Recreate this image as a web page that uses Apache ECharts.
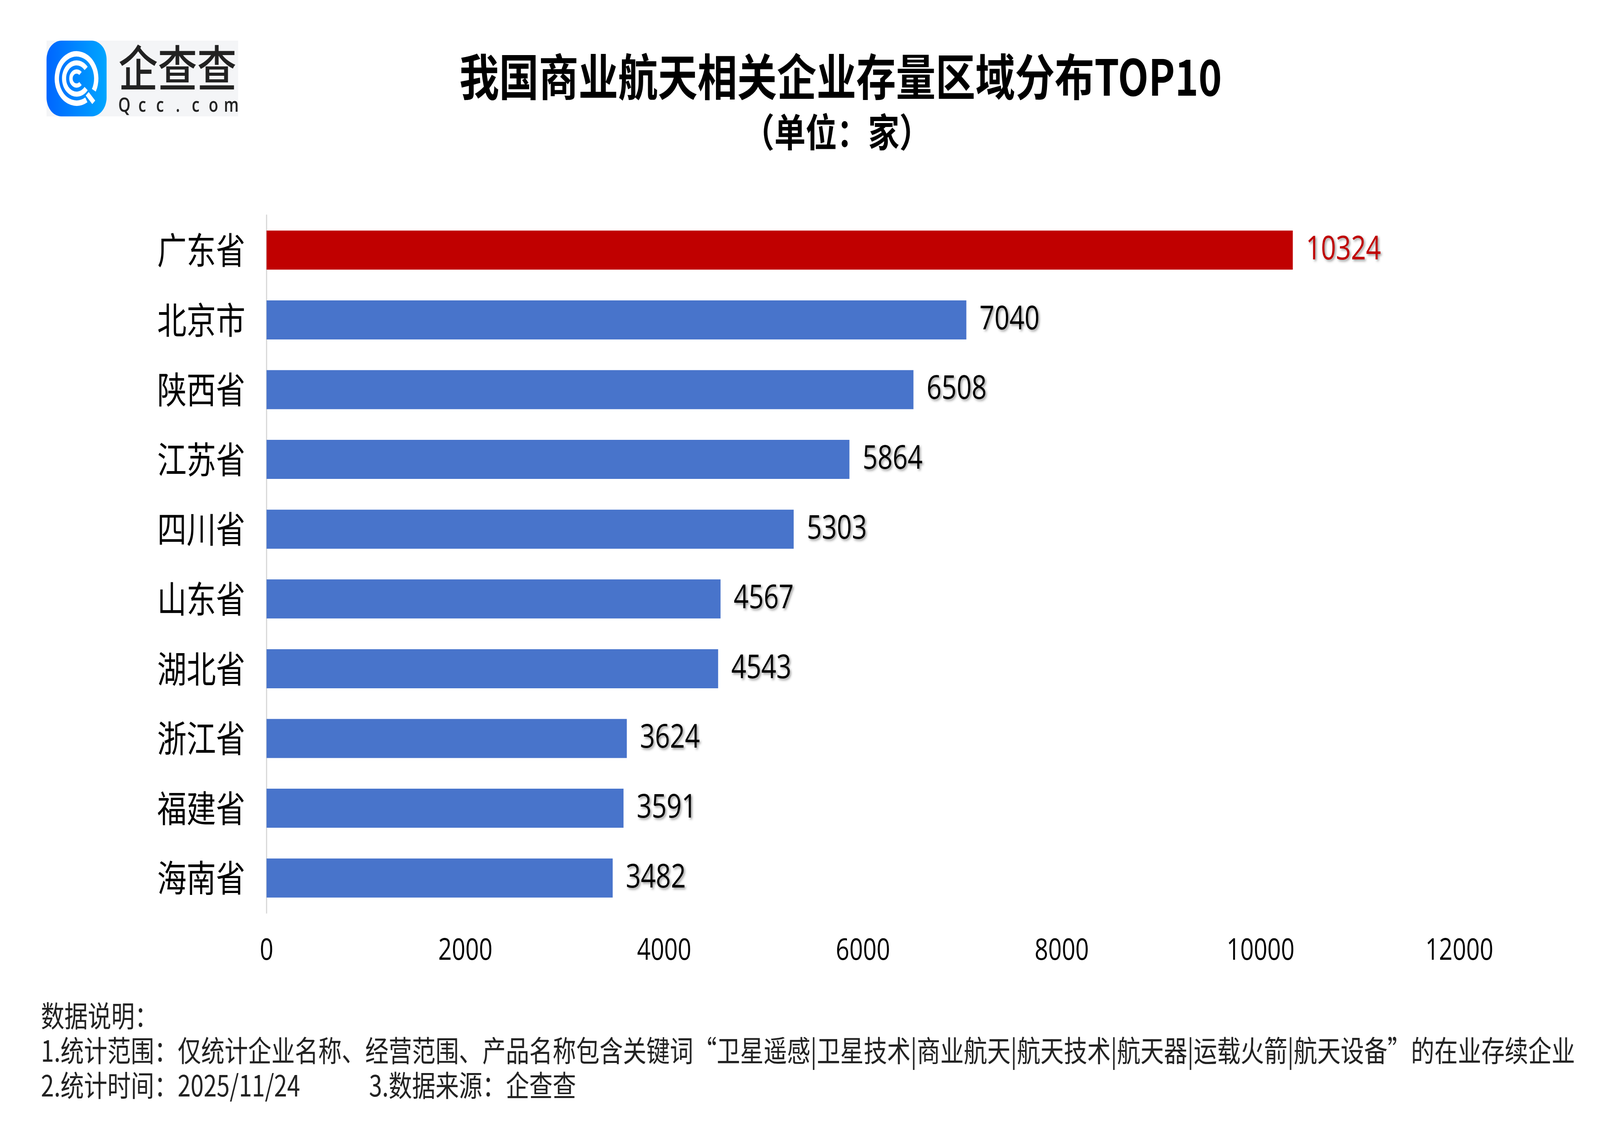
<!DOCTYPE html>
<html>
<head>
<meta charset="utf-8">
<title>我国商业航天相关企业存量区域分布TOP10</title>
<script src="https://cdn.jsdelivr.net/npm/echarts@6/dist/echarts.min.js"></script>
<style>
  html, body { margin: 0; padding: 0; background: #fff; overflow: hidden; }
  #main { width: 5120px; height: 2880px; transform-origin: 0 0; }
</style>
</head>
<body>
<div id="main"></div>
<script>
// 省份（从上到下）
var provinces = ['广东省', '北京市', '陕西省', '江苏省', '四川省', '山东省', '湖北省', '浙江省', '福建省', '海南省'];
// 企业存量（家）
var counts = [10324, 7040, 6508, 5864, 5303, 4567, 4543, 3624, 3591, 3482];
// 横轴刻度
var axisMax = 12000;
var axisStep = 2000;

var titleText = '我国商业航天相关企业存量区域分布TOP10';
var subText = '（单位：家）';
var notes = [
    '数据说明：',
    '1.统计范围：仅统计企业名称、经营范围、产品名称包含关键词“卫星遥感|卫星技术|商业航天|航天技术|航天器|运载火箭|航天设备”的在业存续企业',
    '2.统计时间：2025/11/24'
];
var source = '3.数据来源：企查查';

var CJK = '"Noto Sans CJK SC", "Noto Sans", sans-serif';
var NUM = '"Open Sans", "Noto Sans", sans-serif';
var BLUE = '#4874CB';
var RED = '#C00000';

// 按 5120x2880 画，窗口大小不同时整体缩放铺满
var box = document.getElementById('main');
box.style.transform = 'scale(' + (window.innerWidth / 5120) + ',' + (window.innerHeight / 2880) + ')';

var myChart = echarts.init(box);

// 第一名标红
var barData = counts.map(function (v, i) {
    return {
        value: v,
        itemStyle: { color: i === 0 ? RED : BLUE },
        label: { color: i === 0 ? RED : '#000' }
    };
});

// logo：企查查
var logo = [
    { type: 'rect', shape: { x: 149, y: 104, width: 613, height: 194 }, style: { fill: '#F4F5F7' } },
    {
        type: 'rect', shape: { x: 149, y: 104, width: 192, height: 194, r: 48 },
        style: {
            fill: new echarts.graphic.LinearGradient(0, 0, 1, 0, [
                { offset: 0, color: '#0066FF' },
                { offset: 1, color: '#00A6FF' }
            ])
        }
    },
    { type: 'arc', shape: { cx: 245, cy: 201, r: 63, startAngle: 1.05, endAngle: 0.5 + Math.PI * 2, clockwise: true },
      style: { stroke: '#fff', lineWidth: 14, fill: null } },
    { type: 'arc', shape: { cx: 245, cy: 201, r: 40, startAngle: 0.7, endAngle: Math.PI * 2 - 0.7, clockwise: true },
      style: { stroke: '#fff', lineWidth: 13, fill: null } },
    { type: 'arc', shape: { cx: 245, cy: 201, r: 18, startAngle: 0.8, endAngle: Math.PI * 2 - 0.8, clockwise: true },
      style: { stroke: '#fff', lineWidth: 11, fill: null } },
    { type: 'line', shape: { x1: 279, y1: 240, x2: 300, y2: 262 }, style: { stroke: '#fff', lineWidth: 13 } },
    { type: 'text', style: { x: 568, y: 174, text: '企查查', font: '500 126px ' + CJK, fill: '#222', align: 'center', verticalAlign: 'middle' } }
];
'Qcc.com'.split('').forEach(function (ch, i) {
    logo.push({ type: 'text', style: { x: 398 + i * 57, y: 272, text: ch, font: '600 50px ' + NUM, fill: '#222', align: 'center', verticalAlign: 'middle' } });
});

var texts = [
    { type: 'text', style: { x: 2690, y: 197, text: titleText, font: 'bold 127px ' + CJK, fill: '#000', align: 'center', verticalAlign: 'middle' } },
    { type: 'text', style: { x: 2678, y: 338, text: subText, font: 'bold 100px ' + CJK, fill: '#000', align: 'center', verticalAlign: 'middle' } }
];
notes.forEach(function (t, i) {
    texts.push({ type: 'text', style: { x: 131, y: 2600 + i * 89, text: t, font: '75px ' + CJK, fill: '#222', align: 'left', verticalAlign: 'middle' } });
});
texts.push({ type: 'text', style: { x: 1181, y: 2778, text: source, font: '75px ' + CJK, fill: '#222', align: 'left', verticalAlign: 'middle' } });

var option = {
    backgroundColor: '#fff',
    animation: false,
    grid: { left: 853, right: 450, top: 551, bottom: 543, containLabel: false },
    xAxis: {
        type: 'value',
        min: 0,
        max: axisMax,
        interval: axisStep,
        axisLine: { show: false },
        axisTick: { show: false },
        splitLine: { show: false },
        axisLabel: { fontSize: 76, fontFamily: NUM, color: '#000', margin: 60, formatter: function (v) { return String(v); } }
    },
    yAxis: {
        type: 'category',
        data: provinces,
        inverse: true,
        axisLine: { show: true, lineStyle: { color: '#D9D9D9', width: 4 } },
        axisTick: { show: false },
        axisLabel: { fontSize: 94, fontFamily: CJK, color: '#000', margin: 68 }
    },
    series: [{
        type: 'bar',
        data: barData,
        barCategoryGap: '44%',
        label: {
            show: true,
            position: 'right',
            distance: 42,
            fontSize: 84,
            fontFamily: NUM,
            textShadowColor: 'rgba(0,0,0,0.4)',
            textShadowBlur: 6,
            textShadowOffsetX: 4,
            textShadowOffsetY: 4
        }
    }],
    graphic: logo.concat(texts)
};

myChart.setOption(option);
</script>
</body>
</html>
